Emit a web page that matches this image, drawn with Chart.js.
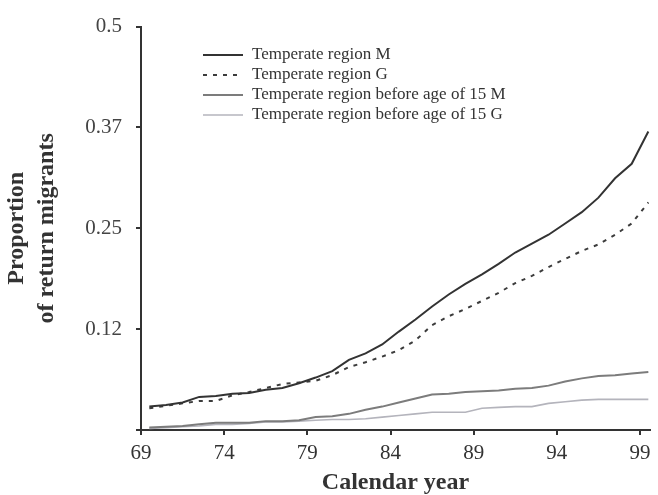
<!DOCTYPE html>
<html>
<head>
<meta charset="utf-8">
<script src="https://cdn.jsdelivr.net/npm/chart.js@4/dist/chart.umd.min.js"></script>
<style>
  html, body { margin: 0; padding: 0; background: #fff; }
  #wrap { width: 658px; height: 495px; }
</style>
</head>
<body>
<div id="wrap"><canvas id="myChart" width="658" height="495"></canvas></div>
<script>
// mid-year points
var years = [69.5, 70.5, 71.5, 72.5, 73.5, 74.5, 75.5, 76.5, 77.5, 78.5,
             79.5, 80.5, 81.5, 82.5, 83.5, 84.5, 85.5, 86.5, 87.5, 88.5,
             89.5, 90.5, 91.5, 92.5, 93.5, 94.5, 95.5, 96.5, 97.5, 98.5, 99.5];

var regionM = [0.029, 0.031, 0.034, 0.041, 0.042, 0.045, 0.046, 0.050, 0.052, 0.058,
               0.065, 0.073, 0.087, 0.095, 0.106, 0.122, 0.137, 0.153, 0.168, 0.181,
               0.193, 0.206, 0.220, 0.231, 0.242, 0.256, 0.270, 0.288, 0.312, 0.330, 0.370];

var regionG = [0.027, 0.030, 0.033, 0.036, 0.036, 0.043, 0.047, 0.052, 0.057, 0.059,
               0.061, 0.068, 0.078, 0.084, 0.091, 0.099, 0.111, 0.130, 0.141, 0.150,
               0.160, 0.170, 0.182, 0.191, 0.202, 0.212, 0.222, 0.230, 0.242, 0.256, 0.282];

var before15M = [0.003, 0.004, 0.005, 0.007, 0.009, 0.009, 0.009, 0.011, 0.011, 0.012,
                 0.016, 0.017, 0.020, 0.025, 0.029, 0.034, 0.039, 0.044, 0.045, 0.047,
                 0.048, 0.049, 0.051, 0.052, 0.055, 0.060, 0.064, 0.067, 0.068, 0.070, 0.072];

var before15G = [0.002, 0.003, 0.004, 0.005, 0.007, 0.007, 0.008, 0.010, 0.010, 0.011,
                 0.012, 0.013, 0.013, 0.014, 0.016, 0.018, 0.020, 0.022, 0.022, 0.022,
                 0.027, 0.028, 0.029, 0.029, 0.033, 0.035, 0.037, 0.038, 0.038, 0.038, 0.038];

var xTicks = [69, 74, 79, 84, 89, 94, 99];
var yTicks = [0, 0.125, 0.25, 0.375, 0.5];
var yTickLabels = ['', '0.12', '0.25', '0.37', '0.5'];

var serif = '"Liberation Serif", "Times New Roman", serif';

function pts(vals) {
  return years.map(function (x, i) { return { x: x, y: vals[i] }; });
}

// legend drawn inside the plot, top left
var insideLegend = {
  id: 'insideLegend',
  afterDraw: function (chart) {
    var ctx = chart.ctx;
    var rows = [55, 75, 95, 115];
    ctx.save();
    ctx.font = '17px ' + serif;
    ctx.textBaseline = 'middle';
    ctx.fillStyle = '#333';
    chart.data.datasets.forEach(function (ds, i) {
      var y = rows[i];
      ctx.beginPath();
      ctx.strokeStyle = ds.borderColor;
      ctx.lineWidth = ds.borderWidth;
      ctx.setLineDash(ds.borderDash || []);
      ctx.moveTo(203, y);
      ctx.lineTo(243, y);
      ctx.stroke();
      ctx.setLineDash([]);
      ctx.fillText(ds.label, 252, y);
    });
    ctx.restore();
  }
};

var ctx = document.getElementById('myChart');
var myChart = new Chart(ctx, {
  type: 'line',
  data: {
    datasets: [{
      label: 'Temperate region M',
      data: pts(regionM),
      borderColor: '#333333',
      borderWidth: 2
    }, {
      label: 'Temperate region G',
      data: pts(regionG),
      borderColor: '#3c3c3c',
      borderWidth: 2,
      borderDash: [4, 6]
    }, {
      label: 'Temperate region before age of 15 M',
      data: pts(before15M),
      borderColor: '#7c7c7c',
      borderWidth: 2
    }, {
      label: 'Temperate region before age of 15 G',
      data: pts(before15G),
      borderColor: '#b4b4bc',
      borderWidth: 1.6
    }]
  },
  options: {
    responsive: false,
    animation: false,
    layout: { padding: { top: 13, right: 8, left: 0, bottom: 0 } },
    elements: { point: { radius: 0 }, line: { tension: 0 } },
    plugins: { legend: { display: false }, tooltip: { enabled: false } },
    scales: {
      x: {
        type: 'linear',
        min: 69,
        max: 99.6,
        afterBuildTicks: function (s) { s.ticks = xTicks.map(function (v) { return { value: v }; }); },
        afterFit: function (s) { s.height = 65; },
        border: { display: true, color: '#333', width: 2 },
        grid: { display: true, drawOnChartArea: false, drawTicks: true, tickLength: 5, color: '#333', lineWidth: 2 },
        ticks: {
          color: '#333', padding: 6, maxRotation: 0,
          font: { family: serif, size: 21 },
          callback: function (v) { return String(v); }
        },
        title: {
          display: true, text: 'Calendar year', color: '#333',
          font: { family: serif, size: 24, weight: 'bold', lineHeight: 1.0 },
          padding: { top: 0, bottom: 0 }
        }
      },
      y: {
        min: 0,
        max: 0.5,
        afterBuildTicks: function (s) { s.ticks = yTicks.map(function (v) { return { value: v }; }); },
        afterFit: function (s) { s.width = 141; },
        border: { display: true, color: '#333', width: 2 },
        grid: { display: true, drawOnChartArea: false, drawTicks: true, tickLength: 5, color: '#333', lineWidth: 2 },
        ticks: {
          color: '#444', padding: 14,
          font: { family: serif, size: 21 },
          callback: function (v) { return yTickLabels[yTicks.indexOf(v)]; }
        },
        title: {
          display: true, text: ['Proportion', 'of return migrants'], color: '#333',
          font: { family: serif, size: 24, weight: 'bold', lineHeight: 1.25 },
          padding: { top: 2, bottom: 0 }
        }
      }
    }
  },
  plugins: [insideLegend]
});
</script>
</body>
</html>
